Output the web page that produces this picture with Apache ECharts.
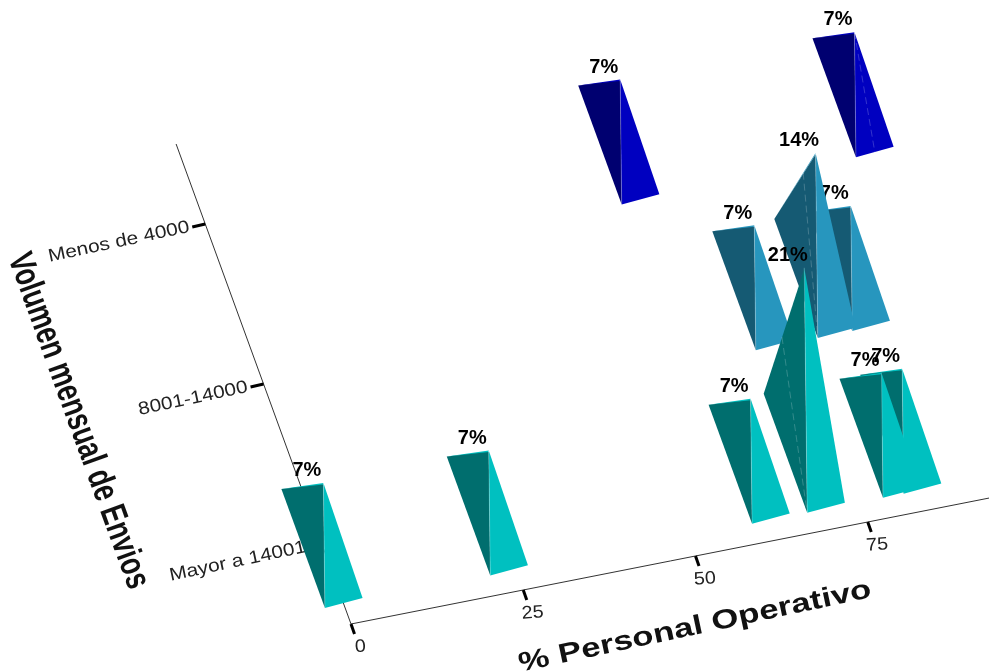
<!DOCTYPE html>
<html>
<head>
<meta charset="utf-8">
<style>html,body{margin:0;padding:0;background:#fff}#chart{width:989px;height:671px;overflow:hidden}</style>
<script src="https://cdn.jsdelivr.net/npm/echarts@6/dist/echarts.min.js"></script>
</head>
<body>
<div id="chart"></div>
<script>
// Envios by volume band against the share of operating staff
const categories = ['Mayor a 14001', '8001-14000', 'Menos de 4000'];
const personalTicks = [0, 25, 50, 75];
const xTitle = '% Personal Operativo';
const yTitle = 'Volumen mensual de Envios';

// One entry per column, ordered back to front
const barCategory = [2, 2, 1, 1, 1, 0, 0, 0, 0, 0, 0];
const barPersonal = [94, 60, 85, 80, 71, 84, 81, 70, 62, 24, 0];
const barShare = [7, 7, 7, 14, 7, 7, 7, 21, 7, 7, 7];

const darkFace = ['#006e6e', '#155a73', '#000070'];
const lightFace = ['#00c0c0', '#2796be', '#0000c0'];

const FONT = '"Liberation Sans", Arial, sans-serif';
const GRID = { left: 50, top: 50, width: 600, height: 450 };
const X_MAX = 100;

// Oblique view of the floor: axis origin, one step along each axis, slight convergence
const ORIGIN = [351, 624];
const X_STEP = [6.89, -1.36];
const Y_STEP = [-58.3, -160];
const CONVERGE = -0.016;
const LIFT_LEAN = -0.012;

// Column height over the floor for a given share
const shareHeight = share => 65 + share * 60 / 7;

function floorPoint(api, x, cat, bandShift) {
  const c = api.coord([x, cat]);
  const band = api.size([0, 1])[1];
  const u = (c[0] - GRID.left) / GRID.width * X_MAX;
  const v = (GRID.top + GRID.height - (c[1] - bandShift * band)) / band;
  return [ORIGIN[0] + u * X_STEP[0] + v * Y_STEP[0], ORIGIN[1] + u * X_STEP[1] + v * Y_STEP[1] + u * v * CONVERGE];
}
const lifted = (p, h) => [p[0] + h * LIFT_LEAN, p[1] - h];
const poly = (points, fill) => ({ type: 'polygon', shape: { points }, style: { fill } });
const line = (a, b, stroke, lineWidth, lineDash) => ({
  type: 'line',
  shape: { x1: a[0], y1: a[1], x2: b[0], y2: b[1] },
  style: { stroke, lineWidth, lineDash }
});
const text = (str, p, deg, size, weight, fill, align, scaleX) => ({
  type: 'text', x: p[0], y: p[1], rotation: deg * Math.PI / 180, scaleX: scaleX || 1,
  style: { text: str, font: weight + ' ' + size + 'px ' + FONT, fill, align, verticalAlign: 'middle', textAlign: align, textVerticalAlign: 'middle' }
});

function renderFrame(params, api) {
  const origin = floorPoint(api, 0, 0, -0.5);
  const children = [
    line(origin, floorPoint(api, X_MAX, 0, -0.5), '#333', 1),
    line(origin, floorPoint(api, 0, categories.length - 1, 0.5), '#333', 1)
  ];
  personalTicks.forEach(tick => {
    const p = floorPoint(api, tick, 0, -0.5);
    children.push(line(p, [p[0] + 3.5, p[1] + 10], '#000', 3));
    children.push(text(String(tick), [p[0] + 9.5, p[1] + 23], 4, 18, 'normal', '#222', 'center', 1.1));
  });
  categories.forEach((name, i) => {
    const p = floorPoint(api, 0, i, 0);
    if (i > 0) children.push(line(p, [p[0] - 13, p[1] + 3], '#000', 3));
    children.push(text(name, [p[0] - 16, p[1] + 3], 12, 18, 'normal', '#222', 'right', 1.16));
  });
  children.push(text(xTitle, [695, 627], 12, 27, 'bold', '#111', 'center', 1.29));
  children.push(text(yTitle, [78, 421], -70, 36, 'bold', '#111', 'center', 0.73));
  return { type: 'group', children };
}

function renderBar(params, api) {
  const x = api.value(0), cat = api.value(1), share = api.value(2);
  const frontLeft = floorPoint(api, x - 2.75, cat, -0.3773);
  const frontRight = floorPoint(api, x + 2.85, cat, -0.3617);
  const top = lifted(frontLeft, shareHeight(share));
  const shoulderBase = lifted(frontLeft, shareHeight(7));
  const shoulder = [shoulderBase[0] - 42, shoulderBase[1] + 6];
  const children = [
    poly([shoulder, top, [top[0] - 1, top[1] + 3]], lightFace[cat]),
    poly([shoulder, [top[0], top[1] + 1.5], frontLeft], darkFace[cat]),
    poly([top, frontLeft, frontRight], lightFace[cat]),
    line(top, frontLeft, 'rgba(255,255,255,0.22)', 1)
  ];
  const seamDash = [7, 4];
  if (share > 7) {
    const t = share > 14 ? 0.45 : 0.7;
    const start = [shoulder[0] + (top[0] - shoulder[0]) * t, shoulder[1] + (top[1] - shoulder[1]) * t];
    children.push(line(start, frontLeft, 'rgba(255,255,255,0.2)', 1, seamDash));
  }
  if (x > 90) {
    const mid = [(frontLeft[0] + frontRight[0]) / 2, (frontLeft[1] + frontRight[1]) / 2];
    children.push(line(top, mid, 'rgba(255,255,255,0.2)', 1, seamDash));
  }
  children.push(text(share + '%', [top[0] - 16.5, top[1] - 12.5], 0, 21, 'bold', '#000', 'center', 0.95));
  return { type: 'group', children };
}

const chart = echarts.init(document.getElementById('chart'), null, { renderer: 'canvas' });
chart.setOption({
  animation: false,
  backgroundColor: '#fff',
  grid: GRID,
  xAxis: { type: 'value', min: 0, max: X_MAX, show: false },
  yAxis: { type: 'category', data: categories, show: false },
  series: [
    { type: 'custom', name: 'ejes', silent: true, renderItem: renderFrame, data: [[0, 0]], encode: { x: 0, y: 1 }, z: 1 },
    {
      type: 'custom', name: 'columnas', silent: true, renderItem: renderBar,
      data: barPersonal.map((x, i) => [x, barCategory[i], barShare[i]]),
      encode: { x: 0, y: 1 }, z: 2
    }
  ]
});
</script>
</body>
</html>
